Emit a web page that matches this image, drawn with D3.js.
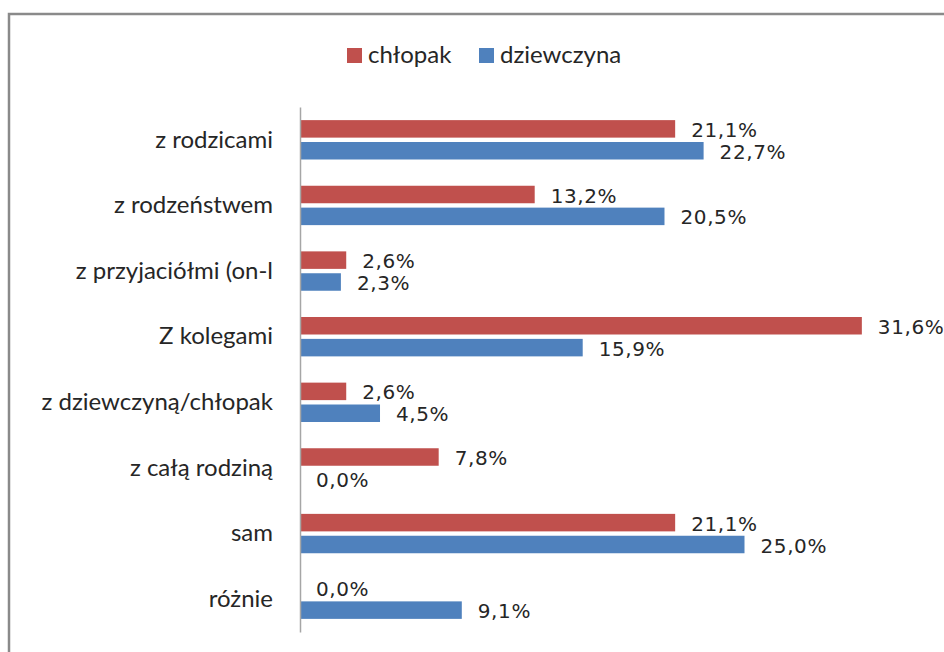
<!DOCTYPE html>
<html>
<head>
<meta charset="utf-8">
<script src="https://cdn.jsdelivr.net/npm/d3@7"></script>
<style>
  html, body { margin: 0; padding: 0; background: #fff; }
  svg { display: block; }
</style>
</head>
<body>
<svg id="chart" width="944" height="652"></svg>
<script>
// Categories (top to bottom) and the two series, in percent
const categories = [
  "z rodzicami",
  "z rodzeństwem",
  "z przyjaciółmi (on-l",
  "Z kolegami",
  "z dziewczyną/chłopak",
  "z całą rodziną",
  "sam",
  "różnie"
];
const seriesNames = ["chłopak", "dziewczyna"];
const chlopak    = [21.1, 13.2, 2.6, 31.6, 2.6, 7.8, 21.1, 0.0];
const dziewczyna = [22.7, 20.5, 2.3, 15.9, 4.5, 0.0, 25.0, 9.1];
const seriesValues = [chlopak, dziewczyna];
const seriesColors = ["#C0504D", "#4F81BD"];

const svg = d3.select("#chart");
const textColor = "#262626";
const catFont = "Lato, 'Open Sans', sans-serif";
const valFont = "'DejaVu Sans', Verdana, sans-serif";

// Outer chart frame (runs off the right and bottom edges)
svg.append("rect")
  .attr("x", 9).attr("y", 14)
  .attr("width", 1000).attr("height", 700)
  .attr("fill", "#fff")
  .attr("stroke", "#8a8a8a")
  .attr("stroke-width", 2.5);

const plot = { left: 300, top: 107, bottom: 632 };

const x = d3.scaleLinear().domain([0, 35]).range([plot.left, plot.left + 35 * 17.78]);
const y = d3.scaleBand().domain(categories).range([plot.top, plot.bottom])
  .paddingInner(0.4).paddingOuter(0.2);
const ySub = d3.scaleBand().domain(seriesNames).range([0, y.bandwidth()]).paddingInner(0.2);

// Rows of data joined per category
const rows = categories.map((c, i) => ({
  cat: c,
  vals: seriesNames.map((s, k) => ({ series: s, value: seriesValues[k][i], color: seriesColors[k] }))
}));

const groups = svg.append("g").selectAll("g.cat")
  .data(rows).join("g")
  .attr("class", "cat")
  .attr("transform", d => `translate(0,${y(d.cat)})`);

groups.selectAll("rect")
  .data(d => d.vals).join("rect")
  .attr("x", x(0))
  .attr("y", d => ySub(d.series))
  .attr("width", d => x(d.value) - x(0))
  .attr("height", ySub.bandwidth())
  .attr("fill", d => d.color);

groups.selectAll("text.val")
  .data(d => d.vals).join("text")
  .attr("class", "val")
  .attr("x", d => x(d.value) + 16)
  .attr("y", d => ySub(d.series) + ySub.bandwidth() / 2)
  .attr("dy", "0.4em")
  .attr("font-family", valFont)
  .attr("font-size", 20)
  .attr("letter-spacing", 0.6)
  .attr("fill", textColor)
  .text(d => d.value.toFixed(1).replace(".", ",") + "%");

// Category axis
const axis = svg.append("g")
  .attr("transform", `translate(${plot.left},0)`)
  .call(d3.axisLeft(y).tickSize(0).tickPadding(27));
axis.select(".domain").attr("stroke", "#a6a6a6").attr("stroke-width", 1.5);
axis.selectAll("text")
  .attr("font-family", catFont)
  .attr("font-size", 24)
  .attr("fill", textColor)
  .attr("dy", "0.32em");
axis.attr("font-size", null).attr("font-family", null);

// Legend
const legendItems = [
  { name: seriesNames[0], color: seriesColors[0], x: 347 },
  { name: seriesNames[1], color: seriesColors[1], x: 479 }
];
const legend = svg.append("g").selectAll("g")
  .data(legendItems).join("g")
  .attr("transform", d => `translate(${d.x},48)`);
legend.append("rect")
  .attr("width", 15).attr("height", 15)
  .attr("fill", d => d.color);
legend.append("text")
  .attr("x", 21).attr("y", 14.5)
  .attr("font-family", catFont)
  .attr("font-size", 24)
  .attr("fill", textColor)
  .text(d => d.name);
</script>
</body>
</html>
